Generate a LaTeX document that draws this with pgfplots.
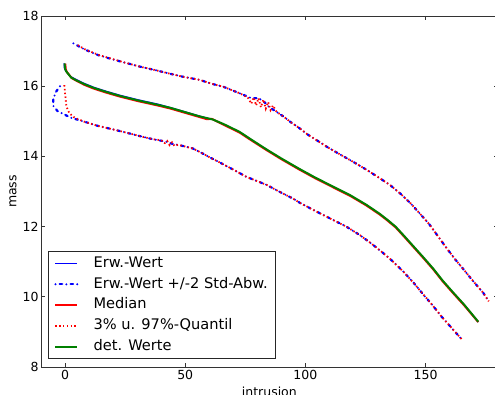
\documentclass[border=0pt]{standalone}
\usepackage{fontspec}
\setmainfont{DejaVu Sans}
\usepackage{pgfplots}
\pgfplotsset{compat=1.18}
\usepackage{pgfplotstable}
\definecolor{mplgreen}{RGB}{0,128,0}
\definecolor{mplblue}{RGB}{0,0,255}

\pgfplotstableread{
x y
-0.2 16.65
0 16.50
0.5 16.42
1.1 16.37
2.5 16.25
4.6 16.17
8 16.06
12 15.95
17 15.84
23 15.72
30 15.60
38.6 15.47
44 15.38
49 15.28
56 15.14
61.5 15.05
66 14.92
72.6 14.70
77 14.50
83.8 14.20
90 13.94
97.6 13.64
104 13.40
111.5 13.14
118.5 12.90
125.4 12.62
131 12.36
134 12.20
137.5 12.00
141 11.74
144.8 11.45
149 11.13
153.2 10.80
157 10.47
161.5 10.12
166 9.78
171.9 9.29
}\detdata

\pgfplotstableread{
x y
-0.4 16.66
-0.3 16.52
0.2 16.44
0.9 16.39
2.3 16.28
4.4 16.20
8 16.08
12 15.97
17 15.86
23 15.74
30 15.62
38.6 15.49
44 15.39
49 15.29
56 15.15
61.5 15.05
66 14.91
72.6 14.69
77 14.49
83.8 14.19
90 13.93
97.6 13.63
104 13.39
111.5 13.13
118.5 12.89
125.4 12.61
131 12.35
134 12.19
137.5 11.99
141 11.73
144.8 11.44
149 11.12
153.2 10.79
157 10.46
161.5 10.11
166 9.77
171.9 9.28
}\meandata

\pgfplotstableread{
x y
0.1 16.64
0.3 16.48
0.8 16.40
1.4 16.35
2.8 16.23
4.9 16.15
8 16.04
12 15.93
17 15.82
23 15.70
30 15.58
38.6 15.45
44 15.36
49 15.26
56 15.12
59 15.06
61 15.07
62.5 15.02
66 14.90
72.6 14.68
77 14.48
83.8 14.18
90 13.92
97.6 13.62
104 13.38
111.5 13.12
118.5 12.88
125.4 12.60
131 12.34
134 12.18
137.5 11.98
141 11.72
144.8 11.43
149 11.11
153.2 10.78
157 10.45
161.5 10.10
166 9.76
171.9 9.28
}\mediandata

\pgfplotstableread{
x y
3.5 17.22
8 17.05
14 16.88
20 16.76
25 16.67
31 16.56
38 16.45
44 16.35
49 16.27
56 16.18
61 16.07
66 15.98
72.6 15.80
77.5 15.66
80.3 15.66
82.3 15.59
85 15.40
88 15.27
91 15.13
94 14.97
97.6 14.80
101 14.62
104.5 14.47
109 14.27
114.3 14.06
120 13.84
125.4 13.62
130 13.42
135.1 13.19
139.5 12.94
143.8 12.66
147.5 12.38
151.5 12.07
155 11.74
158.8 11.38
162.5 11.05
166.4 10.73
170 10.43
174 10.11
176.1 9.89
}\stdupper

\pgfplotstableread{
x y
-2.1 16.00
-3.75 15.84
-4.9 15.64
-4.9 15.44
-3.1 15.29
2.5 15.10
8 14.99
13.6 14.87
19.9 14.77
25.3 14.68
31 14.58
36.5 14.49
42 14.42
44.5 14.36
47 14.33
53 14.23
56 14.13
60 13.98
64.3 13.83
69.8 13.63
75.4 13.42
83.8 13.19
89 13.00
94.8 12.80
97.6 12.68
104 12.45
111.5 12.19
117 12.00
122.6 11.76
127 11.54
132.3 11.25
136 11.03
140.7 10.72
145 10.40
149 10.07
153 9.75
156.7 9.43
161 9.10
165 8.79
}\stdlower

\pgfplotstableread{
x y
5.3 17.17
8 17.06
14 16.89
20 16.77
25 16.67
31 16.56
38 16.45
44 16.35
49 16.27
56 16.18
61 16.07
66 15.98
72.6 15.80
76 15.68
77.5 15.50
78.5 15.68
79.5 15.45
80.5 15.66
81.5 15.40
82.5 15.62
83.5 15.36
84.5 15.55
85.5 15.32
86.5 15.45
88 15.27
91 15.13
94 14.97
97.6 14.80
101 14.62
104.5 14.47
109 14.27
114.3 14.06
120 13.84
125.4 13.62
130 13.42
135.1 13.19
139.5 12.94
143.8 12.66
147.5 12.38
151.5 12.07
155 11.74
158.8 11.38
162.5 11.05
166.4 10.73
170 10.43
174 10.11
176.3 9.87
}\qupper

\pgfplotstableread{
x y
-0.3 16.03
0 15.80
0.3 15.60
0.6 15.42
1.8 15.23
4 15.10
8 14.99
13.6 14.87
19.9 14.77
25.3 14.68
31 14.58
36.5 14.49
40 14.46
41.5 14.38
42.5 14.44
43.5 14.32
44.5 14.40
45.5 14.30
47 14.33
53 14.23
56 14.13
60 13.98
64.3 13.83
69.8 13.63
75.4 13.42
83.8 13.19
89 13.00
94.8 12.80
97.6 12.68
104 12.45
111.5 12.19
117 12.00
122.6 11.76
127 11.54
132.3 11.25
136 11.03
140.7 10.72
145 10.40
149 10.07
153 9.75
156.7 9.43
161 9.10
165.3 8.77
}\qlower

\begin{document}
\begin{tikzpicture}
\begin{axis}[
  at={(0,0)}, anchor=south west,
  scale only axis, width=456.7pt, height=351pt,
  xmin=-10, xmax=180, ymin=8, ymax=18,
  xtick={0,50,100,150}, ytick={8,10,12,14,16,18},
  tick align=inside, major tick length=4pt,
  tick style={black!80, line width=0.6pt},
  axis line style={black!80, line width=0.8pt},
  /pgf/number format/assume math mode=true,
  ticklabel style={font=\fontsize{12.5}{14}\selectfont},
  yticklabel style={xshift=1pt},
  xlabel={intrusion}, ylabel={mass},
  label style={font=\fontsize{12.5}{14}\selectfont},
  xlabel style={at={(axis description cs:0.5,0)}, anchor=north, yshift=-20pt, inner sep=0pt},
  ylabel style={at={(axis description cs:-0.0613,0.5)}, anchor=center, inner sep=0pt},
  legend style={at={(axis description cs:0.0153,0.0228)}, anchor=south west,
    draw=black!85, line width=0.8pt, fill=white, sharp corners,
    font=\fontsize{14.6}{16}\selectfont,
    inner xsep=6pt, inner ysep=3pt, row sep=3pt,
    nodes={inner sep=2pt, text height=10.8pt, text depth=3pt},
    /tikz/every odd column/.append style={column sep=13pt}},
  legend cell align=left,
  legend image code/.code={\draw[#1] (0pt,0pt) -- (22pt,0pt);},
]
\addlegendimage{color=mplblue, line width=1.6pt}
\addlegendentry{Erw.-Wert}
\addplot[color=mplblue, line width=1.1pt, forget plot] table {\meandata};
\addplot[draw=mplblue, line width=2.2pt, line cap=round, dash pattern=on 0pt off 4.2pt on 2.5pt off 4.2pt] table {\stdupper};
\addlegendentry{Erw.-Wert +/-2 Std-Abw.}
\addplot[draw=mplblue, line width=2.2pt, line cap=round, dash pattern=on 0pt off 4.2pt on 2.5pt off 4.2pt, forget plot] table {\stdlower};
\addplot[red, line width=2pt] table {\mediandata};
\addlegendentry{Median}
\addplot[red, line width=1.8pt, dash pattern=on 1.4pt off 2.4pt] table {\qupper};
\addlegendentry{3\% u. 97\%-Quantil}
\addplot[red, line width=1.8pt, dash pattern=on 1.4pt off 2.4pt, forget plot] table {\qlower};
\addplot[mplgreen, line width=2pt] table {\detdata};
\addlegendentry{det. Werte}
\end{axis}
\pgfresetboundingbox
\useasboundingbox (-41pt,-28pt) rectangle (454pt,367pt);
\end{tikzpicture}
\end{document}
